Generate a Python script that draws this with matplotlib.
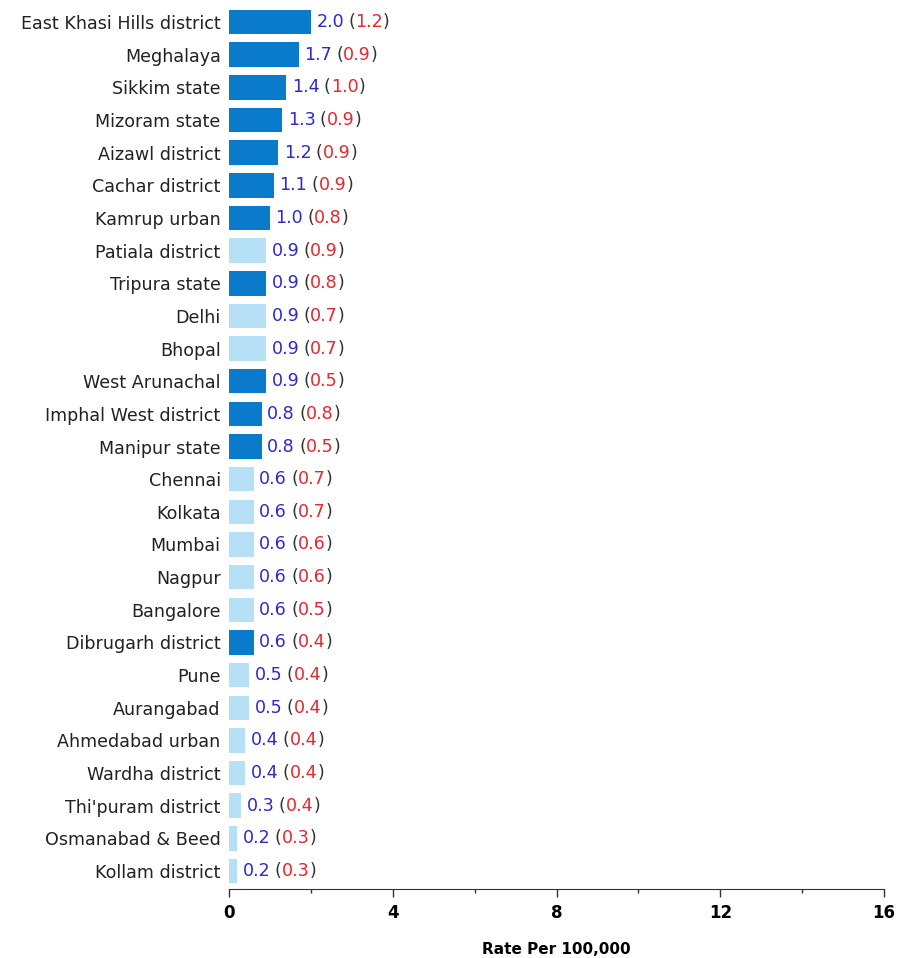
import matplotlib
matplotlib.use("Agg")
import matplotlib.pyplot as plt
from matplotlib.ticker import MultipleLocator

categories = ["East Khasi Hills district", "Meghalaya", "Sikkim state", "Mizoram state",
              "Aizawl district", "Cachar district", "Kamrup urban", "Patiala district",
              "Tripura state", "Delhi", "Bhopal", "West Arunachal", "Imphal West district",
              "Manipur state", "Chennai", "Kolkata", "Mumbai", "Nagpur", "Bangalore",
              "Dibrugarh district", "Pune", "Aurangabad", "Ahmedabad urban", "Wardha district",
              "Thi'puram district", "Osmanabad & Beed", "Kollam district"]
rates = [2.0, 1.7, 1.4, 1.3, 1.2, 1.1, 1.0, 0.9, 0.9, 0.9, 0.9, 0.9, 0.8, 0.8,
         0.6, 0.6, 0.6, 0.6, 0.6, 0.6, 0.5, 0.5, 0.4, 0.4, 0.3, 0.2, 0.2]
secondary = [1.2, 0.9, 1.0, 0.9, 0.9, 0.9, 0.8, 0.9, 0.8, 0.7, 0.7, 0.5, 0.8, 0.5,
             0.7, 0.7, 0.6, 0.6, 0.5, 0.4, 0.4, 0.4, 0.4, 0.4, 0.4, 0.3, 0.3]
northeast = [True, True, True, True, True, True, True, False, True, False, False, True, True,
             True, False, False, False, False, False, True, False, False, False, False,
             False, False, False]

DARK = "#0a7bcb"
LIGHT = "#b5e0f6"
BLUE_TXT = "#2a2ad0"
RED_TXT = "#e8262b"
PAREN = "#333333"

plt.rcParams['font.family'] = ['DejaVu Sans']

W, H = 897, 958
fig = plt.figure(figsize=(W / 100, H / 100), dpi=100)
left, right, top, bottom = 229, 884, 5.7, 889
ax = fig.add_axes([left / W, 1 - bottom / H, (right - left) / W, (bottom - top) / H])

n = len(categories)
ys = list(range(n))
colors = [DARK if d else LIGHT for d in northeast]
ax.barh(ys, rates, height=0.75, color=colors)
ax.set_ylim(n - 1 + 0.55, -0.5)
ax.set_xlim(0, 16)

ax.set_yticks(ys)
ax.set_yticklabels(categories, fontsize=12.6, color="#222222")
ax.tick_params(axis='y', length=0, pad=6)

ax.xaxis.set_major_locator(MultipleLocator(4))
ax.xaxis.set_minor_locator(MultipleLocator(2))
ax.tick_params(axis='x', which='major', length=6, width=1, labelsize=12, pad=5, color="#333333")
ax.tick_params(axis='x', which='minor', length=3, width=1, color="#333333")
for lab in ax.get_xticklabels():
    lab.set_fontweight('bold')
ax.set_xlabel("Rate Per 100,000", fontsize=11, fontweight='bold', labelpad=14)

for s in ['top', 'right', 'left']:
    ax.spines[s].set_visible(False)
ax.spines['bottom'].set_color("#333333")

for y, r, s in zip(ys, rates, secondary):
    t1 = ax.annotate(f"{r:.1f}", xy=(r, y), xytext=(4, 0), textcoords='offset points',
                     va='center', ha='left', fontsize=12.6, color=BLUE_TXT)
    t2 = ax.annotate("(", xy=(1, 0), xycoords=t1, xytext=(3, 0), textcoords='offset points',
                     va='bottom', ha='left', fontsize=12.6, color=PAREN)
    t3 = ax.annotate(f"{s:.1f}", xy=(1, 0), xycoords=t2, va='bottom', ha='left',
                     fontsize=12.6, color=RED_TXT)
    ax.annotate(")", xy=(1, 0), xycoords=t3, va='bottom', ha='left',
                fontsize=12.6, color=PAREN)

fig.savefig("out.png", dpi=100)
